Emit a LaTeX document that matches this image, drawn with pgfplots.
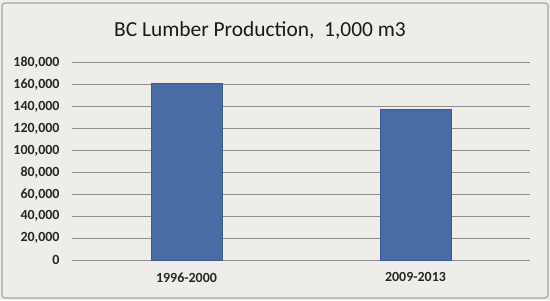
\documentclass[border=0pt]{standalone}
\usepackage{pgfplots}
\pgfplotsset{compat=1.18}
\usepackage{fontspec}
\setmainfont{Carlito}
\definecolor{bgc}{HTML}{EFEDEA}
\definecolor{barc}{HTML}{4A6CA5}
\definecolor{bard}{HTML}{3C5A8E}
\definecolor{gridc}{HTML}{8E8E8E}
\definecolor{framec}{HTML}{A6A6A6}
\begin{document}
\begin{tikzpicture}[x=1bp,y=1bp]
\useasboundingbox (0,0) rectangle (550,300);
\fill[bgc] (0,0) rectangle (550,300);
\draw[framec, line width=1.2bp, rounded corners=3bp] (2,2) rectangle (548,297);
\node[font=\fontsize{21.5}{25}\selectfont, text=black!90] at (260,270) {BC Lumber Production,\ \ 1,000 m3};
\begin{axis}[
  at={(72bp,40bp)}, anchor=south west,
  scale only axis, width=458bp, height=197.3bp,
  xmin=-0.5, xmax=1.5, ymin=0, ymax=180000,
  ytick={0,20000,...,180000},
  xtick={0,1}, xticklabels={1996-2000,2009-2013},
  axis line style={draw=none},
  major tick length=0pt,
  ymajorgrids, grid style={gridc, line width=0.9bp},
  axis on top=false,
  scaled y ticks=false,
  /pgf/number format/assume math mode=true,
  /pgf/number format/.cd, 1000 sep={,}, fixed,
  /pgfplots/.cd,
  yticklabel style={font=\fontsize{14}{16}\selectfont\bfseries, text=black!85, xshift=-9bp},
  xticklabel style={font=\fontsize{14}{16}\selectfont\bfseries, text=black!85, yshift=-9bp},
  ybar, bar width=71bp,
]
\addplot[fill=barc, draw=bard, line width=0.8bp] coordinates {(0,161200) (1,137500)};
\end{axis}
\end{tikzpicture}
\end{document}
